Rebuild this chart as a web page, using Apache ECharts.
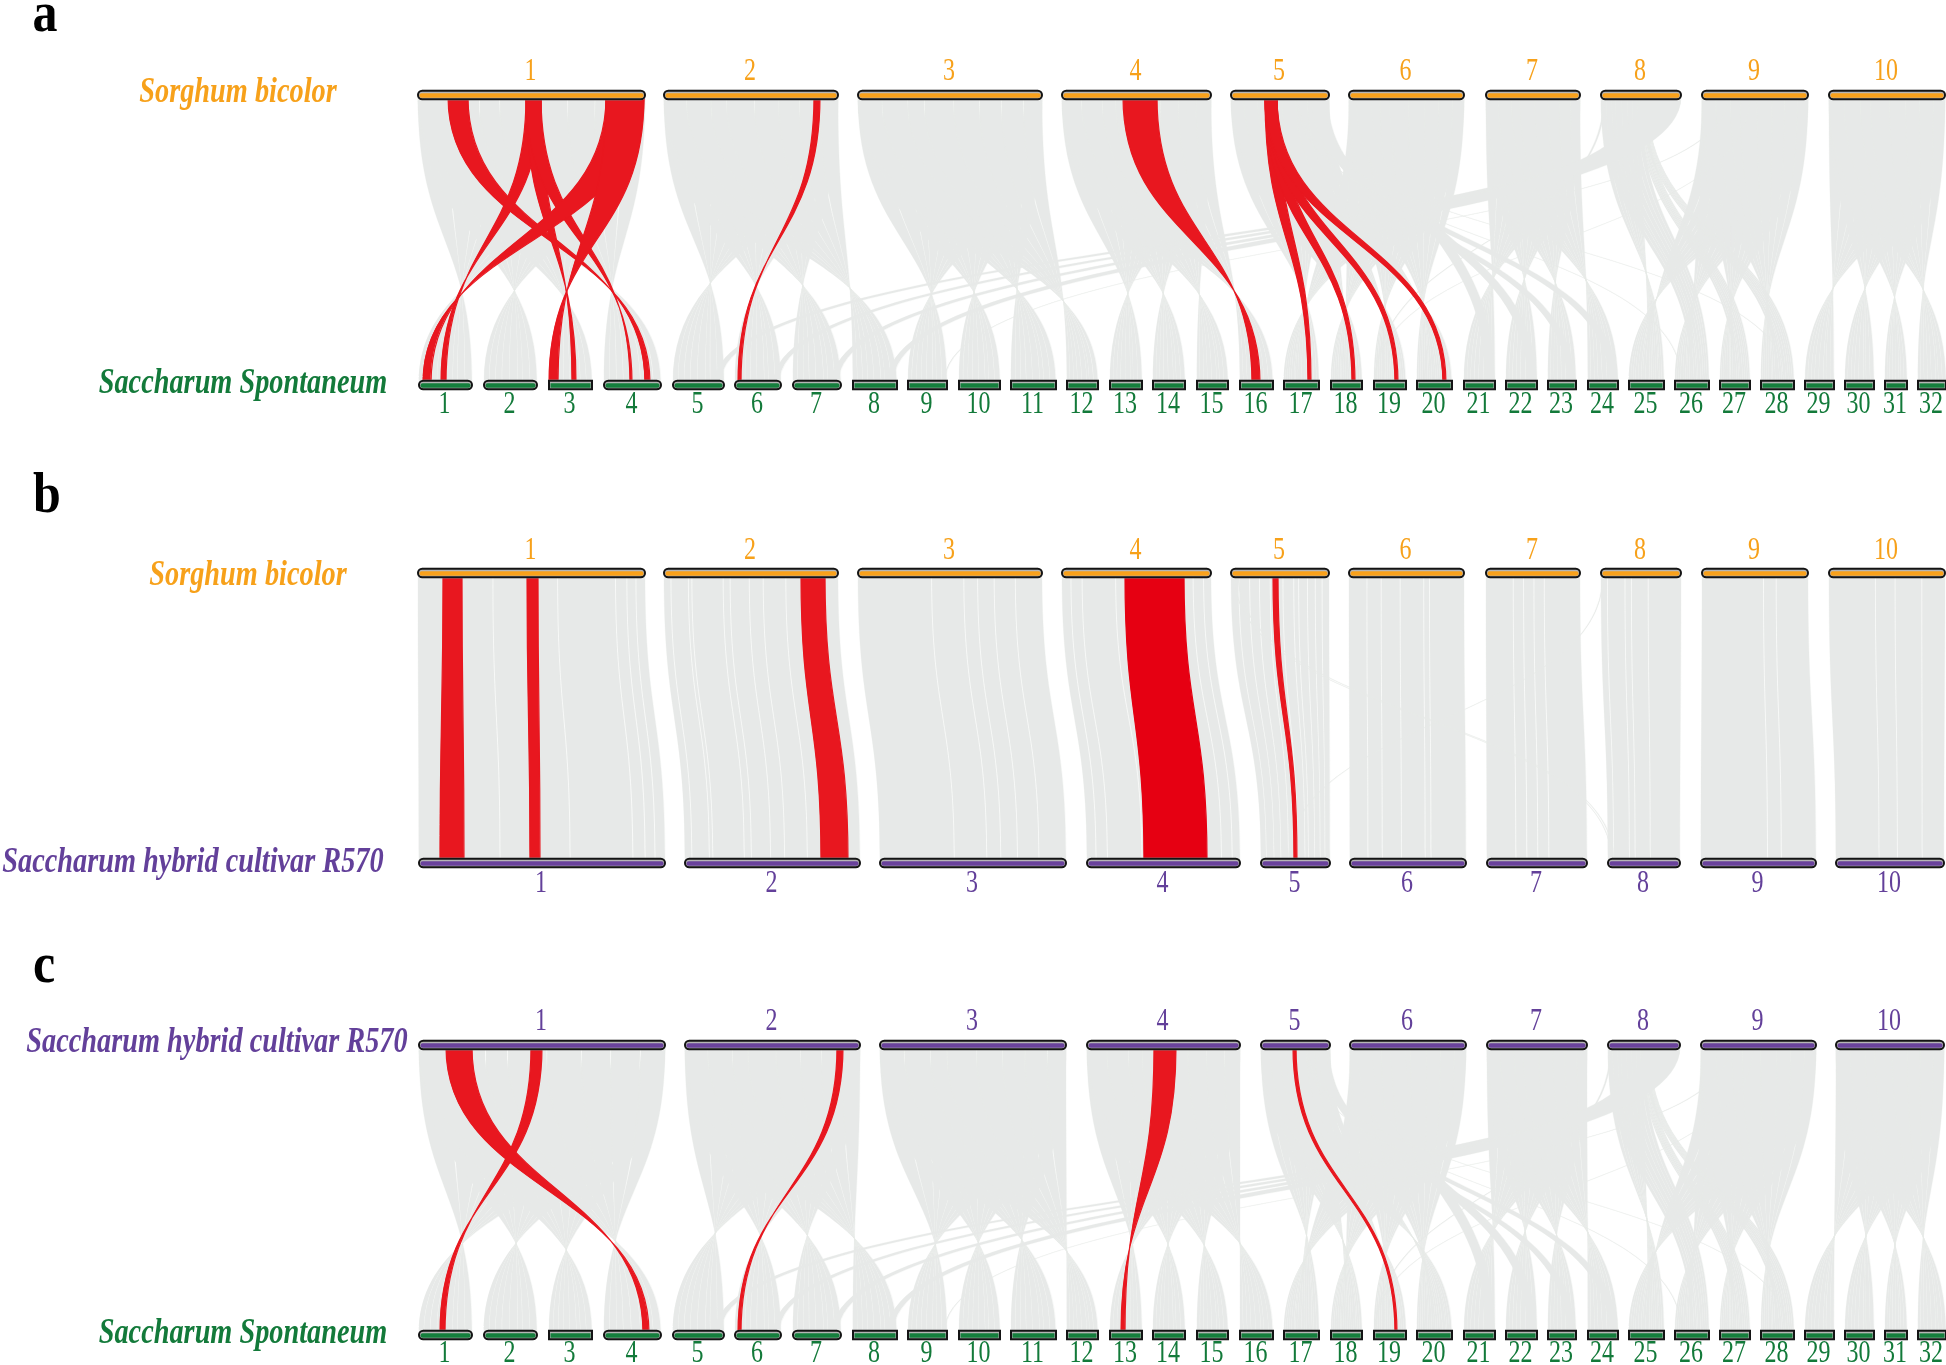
<!DOCTYPE html>
<html><head><meta charset="utf-8">
<style>html,body{margin:0;padding:0;background:#fff}#c{width:1946px;height:1365px}</style>
<script src="https://cdn.jsdelivr.net/npm/echarts@6/dist/echarts.min.js"></script>
</head><body><div id="c"></div>
<script>
// Genome tracks: [start, end] of each chromosome on a common track ruler
const sorghumChr = [[418,645],[664,838],[858,1042],[1062,1211],[1231,1329],[1349,1464],[1486,1580],[1601,1681],[1702,1808],[1829,1945]];
const r570Chr = [[419,665],[685,860],[880,1066],[1087,1240],[1261,1330],[1350,1466],[1487,1587],[1608,1680],[1701,1816],[1836,1944]];
const spontChr = [[419,472],[484,537],[549,592],[604,661],[673,724],[735,781],[793,841],[853,897],[908,947],[959,1000],[1011,1056],[1067,1098],[1110,1142],[1153,1185],[1197,1228],[1240,1273],[1284,1319],[1331,1362],[1374,1406],[1417,1452],[1464,1495],[1506,1537],[1548,1576],[1588,1618],[1629,1664],[1675,1709],[1720,1750],[1761,1794],[1805,1834],[1845,1874],[1885,1907],[1918,1946]];
const spontRounded = [1,2,4,5,6,7];
const sorghumLabels = ['1','2','3','4','5','6','7','8','9','10'];
const r570Labels = ['1','2','3','4','5','6','7','8','9','10'];
const spontLabels = ['1','2','3','4','5','6','7','8','9','10','11','12','13','14','15','16','17','18','19','20','21','22','23','24','25','26','27','28','29','30','31','32'];

// Synteny blocks between a top genome and Spontaneum:
// [topChr, topFrom, topTo, bottomChr, bottomFrom, bottomTo], as fractions of each chromosome
const fanBlocks = [
 [1,0,1,1,1,0],[1,0,1,2,1,0],[1,0,1,3,1,0],[1,0,1,4,1,0],
 [2,0,1,5,1,0],[2,0,1,6,1,0],[2,0,1,7,1,0],[2,0,1,8,1,0],
 [3,0,1,9,1,0],[3,0,1,10,1,0],[3,0,1,11,1,0],[3,0,1,12,1,0],
 [4,0,1,13,1,0],[4,0,1,14,1,0],[4,0,1,15,1,0],[4,0,1,16,1,0],
 [5,0,1,17,1,.46],[5,0,1,18,1,.48],[5,0,1,19,1,.5],[5,0,1,20,1,.49],
 [6,0,1,17,.46,0],[6,0,1,18,.48,0],[6,0,1,19,.5,0],[6,0,1,20,.49,0],
 [7,0,1,21,1,0],[7,0,1,22,1,0],[7,0,1,23,1,0],[7,0,1,24,1,0],
 [9,0,1,25,.55,0],[9,0,1,26,.5,0],[9,0,1,27,.5,0],[9,0,1,28,.5,0],
 [8,0,.5,25,1,.55],[8,0,.5,26,.5,1],[8,.46,.56,27,.5,1],[8,.5,.58,28,.5,1],
 [10,0,1,29,1,0],[10,0,1,30,1,0],[10,0,1,31,1,0],[10,0,1,32,1,0]
];
// Thinner bands and single threads that leave their own group
const crossBlocks = [
 [8,.74,1,5,.82,.94],[8,.68,.96,6,.84,.97],[8,.61,.92,7,.82,.95],[8,.49,1,8,.78,.92],
 [6,.35,.48,21,.7,.98],[6,.06,.19,22,.7,.98],[5,.86,.99,23,.7,.96],[5,.82,.95,24,.73,1],
 [8,.03,.05,19,.05,.08],[9,.24,.25,9,.93,.95],[5,.68,.69,28,.8,.82],[5,.66,.67,26,.2,.22],[9,.45,.455,19,.02,.04]
];
const fanSplits = [.13,.27,.36,.52,.66,.78,.9];

// Red highlighted blocks (top track from/to, bottom track from/to)
const redA = [[448,468,650,645],[526,541,446,441],[526,541,576,572],[526,541,632,630],[606,644,431,423],[606,644,558,549],[814,820,741,738],[1123,1157,1260,1252],[1265,1277,1308,1311],[1265,1277,1352,1355],[1265,1277,1395,1398],[1265,1277,1443,1446]];
const redB = [[443,462,440,464],[527,538,530,540],[801,825,821,848],[1125,1184,1144,1207],[1273,1278,1294,1297]];
const redC = [[446,472,649,643],[531,542,445,440],[837,843,741,738],[1154,1176,1125,1121],[1293,1296,1395,1397]];

// Panel b: one block per chromosome pair, white gaps at these fractions
const collinearGaps = [
 [.33,.615,.87,.92,.96],[.04,.14,.16,.34,.38,.49,.57,.7],[.4,.575,.65,.74,.855],[.06,.135,.36,.88,.95],
 [.08,.19,.29,.4,.53,.64,.69,.78,.86,.93],[.156,.28,.445,.65,.7],[.29,.4,.51,.62],[.08,.3,.38,.59],[.58,.7],[.4,.57,.8]
];
const collinearThreads = [[5,.03,.04,8,.05,.06],[5,.07,.08,8,.08,.09],[8,.02,.03,5,.4,.41]];

const GRAY='#E7E9E8', RED='#E8171F', ORANGE='#F9A11B', GREEN='#157F3D', PURPLE='#6A429C';
const TEXT_ORANGE='#F7A11A', TEXT_GREEN='#137A3A', TEXT_PURPLE='#63409A';

const panels = [
 {top:97, letter:'a', letterX:45, letterY:17, topName:'Sorghum bicolor', topNameX:238, topNameY:91, botName:'Saccharum Spontaneum', botNameX:243, botNameY:382, topLabY:-25, botLabY:22},
 {top:575,letter:'b', letterX:47, letterY:498, topName:'Sorghum bicolor', topNameX:248, topNameY:574, botName:'Saccharum hybrid cultivar R570', botNameX:193, botNameY:861, topLabY:-24, botLabY:23},
 {top:1047,letter:'c', letterX:44, letterY:968, topName:'Saccharum hybrid cultivar R570', topNameX:217, topNameY:1041, botName:'Saccharum Spontaneum', botNameX:243, botNameY:1332, topLabY:-25, botLabY:21}
];
const H = 286;

function span(c, f){ return c[0] + (c[1]-c[0]) * f; }
function blockRows(blocks, topG, botG, splits){
  const rows=[];
  blocks.forEach(b=>{
    const T=topG[b[0]-1], B=botG[b[3]-1];
    if(!splits){ rows.push([span(T,b[1]),span(T,b[2]),span(B,b[4]),span(B,b[5])]); return; }
    let prev=0;
    splits.concat([1]).forEach(cut=>{
      const g = cut<1 ? .0035 : 0;
      const f0=prev, f1=cut-g;
      const t=f=>b[1]+(b[2]-b[1])*f, u=f=>b[4]+(b[5]-b[4])*f;
      rows.push([span(T,t(f0)),span(T,t(f1)),span(B,u(f0)),span(B,u(f1))]);
      prev=cut+g;
    });
  });
  return rows;
}
function collinearRows(){
  const rows=[];
  collinearGaps.forEach((gaps,i)=>{
    const T=sorghumChr[i],B=r570Chr[i]; let prev=0;
    gaps.concat([1]).forEach(cut=>{
      const gT = cut<1 ? .45/(T[1]-T[0]) : 0;
      rows.push([span(T,prev),span(T,cut-gT),span(B,prev),span(B,cut-gT)]);
      prev=cut+gT;
    });
  });
  return rows;
}
function ribbonItem(color, outline){
  return function(params, api){
    const a=api.coord([api.value(0),0]), b=api.coord([api.value(1),0]);
    const c=api.coord([api.value(3),1]), d=api.coord([api.value(2),1]);
    const m=(a[1]+c[1])/2;
    const p=`M${a[0]} ${a[1]}L${b[0]} ${b[1]}C${b[0]} ${m} ${c[0]} ${m} ${c[0]} ${c[1]}L${d[0]} ${d[1]}C${d[0]} ${m} ${a[0]} ${m} ${a[0]} ${a[1]}Z`;
    return {type:'group',children:[{type:'path',shape:{pathData:p},style:{fill:color,stroke:color,lineWidth:outline}}],silent:true};
  };
}
function barItem(color, textColor, side){
  return function(params, api){
    const p0=api.coord([api.value(0),side]), p1=api.coord([api.value(1),side]);
    const h=8.5, off=side===0?-2:2;
    const x=p0[0], w=p1[0]-p0[0], y=p0[1]+off-h/2;
    const rnd=api.value(2)?h/2:0;
    const mid=(p0[0]+p1[0])/2-1;
    const labY=p0[1]+api.value(3);
    return {type:'group',silent:true,children:[
      {type:'rect',shape:{x:x-1,y:y-1,width:w+2,height:h+2,r:rnd+1},style:{fill:'#dddddd'}},
      {type:'rect',shape:{x,y,width:w,height:h,r:rnd},style:{fill:'#b5b5b5',stroke:'#141414',lineWidth:2}},
      {type:'rect',shape:{x:x+1.5,y:y+2.6,width:w-3,height:4.4,r:rnd?2:0},style:{fill:color}},
      {type:'text',x:mid,y:labY,scaleY:1.3,style:{text:api.value(4)+'',x:0,y:0,fill:textColor,font:'24px "Liberation Serif"',align:'center',verticalAlign:'middle'}}
    ]};
  };
}
function textSeries(rows){
  return {type:'custom',coordinateSystem:'none',silent:true,data:rows.map((r,i)=>[i]),clip:false,z:10,
    renderItem:(p)=>{
      const r=rows[p.dataIndex];
      return {type:'text',x:r.x,y:r.y,scaleY:r.s,style:{text:r.t,x:0,y:0,fill:r.c,font:r.f,align:'center',verticalAlign:'middle'}};
    }};
}

const grids=[],xAxes=[],yAxes=[],series=[];
panels.forEach((P,i)=>{
  grids.push({left:0,width:1946,top:P.top,height:H,show:false});
  xAxes.push({type:'value',gridIndex:i,min:0,max:1946,show:false});
  yAxes.push({type:'value',gridIndex:i,min:0,max:1,inverse:true,show:false});
  const topG = i===2?r570Chr:sorghumChr;
  const botG = i===1?r570Chr:spontChr;
  const grayRows = i===1
    ? collinearRows().concat(blockRows(collinearThreads,sorghumChr,r570Chr))
    : blockRows(fanBlocks,topG,botG,fanSplits).concat(blockRows(crossBlocks,topG,botG));
  const red = [redA,redB,redC][i];
  const base={type:'custom',xAxisIndex:i,yAxisIndex:i,clip:false,silent:true,animation:false};
  series.push(Object.assign({},base,{data:grayRows,renderItem:ribbonItem(GRAY,.3),z:2,encode:{x:[0,1,2,3]}}));
  series.push(Object.assign({},base,{data:red,renderItem:(p,api)=>{
      const deep = i===1 && p.dataIndex===3;
      return ribbonItem(deep?'#E60012':RED,1.2)(p,api);
    },z:3,encode:{x:[0,1,2,3]}}));
  const topRows=topG.map((c,k)=>[c[0],c[1],1,P.topLabY,(i===2?r570Labels:sorghumLabels)[k]]);
  const botRows=botG.map((c,k)=>[c[0],c[1],(i===1||spontRounded.includes(k+1))?1:0,P.botLabY,(i===1?r570Labels:spontLabels)[k]]);
  const colorOf=g=>g===sorghumChr?[ORANGE,TEXT_ORANGE]:g===r570Chr?[PURPLE,TEXT_PURPLE]:[GREEN,TEXT_GREEN];
  const dims=['a','b','c','d',{name:'e',type:'ordinal'}];
  series.push(Object.assign({},base,{data:topRows,renderItem:barItem(colorOf(topG)[0],colorOf(topG)[1],0),z:4,encode:{x:[0,1]},dimensions:dims}));
  series.push(Object.assign({},base,{data:botRows,renderItem:barItem(colorOf(botG)[0],colorOf(botG)[1],1),z:4,encode:{x:[0,1]},dimensions:dims}));
});
const nameFont='italic bold 28.3px "Liberation Serif"';
const titleRows=[];
panels.forEach((P,i)=>{
  titleRows.push({x:P.letterX,y:P.letterY,t:P.letter,c:'#000',f:'bold 50px "Liberation Serif"',s:1.12});
  titleRows.push({x:P.topNameX,y:P.topNameY+1.5,t:P.topName,c:i===2?TEXT_PURPLE:TEXT_ORANGE,f:nameFont,s:1.3});
  titleRows.push({x:P.botNameX,y:P.botNameY+1.5,t:P.botName,c:i===1?TEXT_PURPLE:TEXT_GREEN,f:nameFont,s:1.3});
});
series.push(textSeries(titleRows));

const chart=echarts.init(document.getElementById('c'),null,{renderer:'canvas'});
chart.setOption({animation:false,backgroundColor:'#fff',grid:grids,xAxis:xAxes,yAxis:yAxes,series});
</script></body></html>
